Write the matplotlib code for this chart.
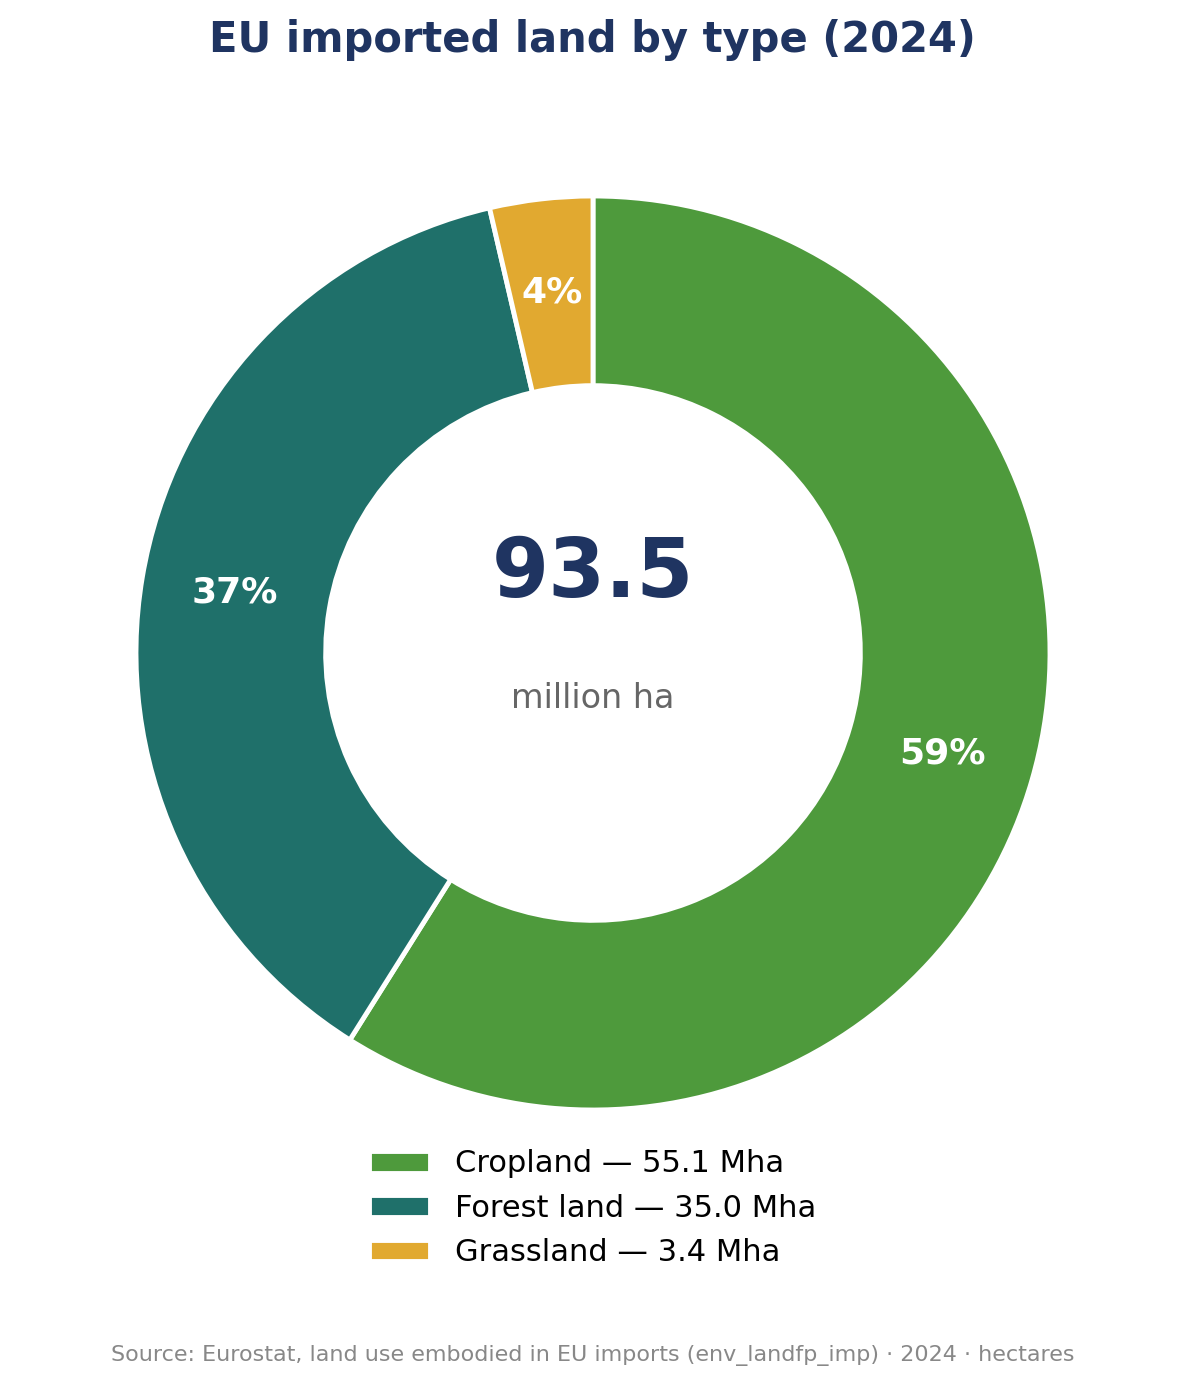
import matplotlib.pyplot as plt

categories = ["Cropland", "Forest land", "Grassland"]
values = [55.1, 35.0, 3.4]
colors = ["#4E9A3C", "#1F706A", "#E1A930"]
total_label = "93.5"
unit_label = "million ha"
source = "Source: Eurostat, land use embodied in EU imports (env_landfp_imp) · 2024 · hectares"

W, H = 1185, 1388
fig = plt.figure(figsize=(W / 100, H / 100), dpi=100)

# donut axes: square region centred at (593, 653) px, radius 457 px
cx, cy, r = 593, 653, 457
ax = fig.add_axes([(cx - r) / W, (H - cy - r) / H, 2 * r / W, 2 * r / H])

wedges, texts, autotexts = ax.pie(
    values,
    colors=colors,
    startangle=90,
    counterclock=False,
    autopct="%.0f%%",
    pctdistance=0.795,
    wedgeprops=dict(width=0.415, edgecolor="white", linewidth=3.5),
    textprops=dict(color="white", fontsize=26, fontweight="bold"),
)
ax.set_xlim(-1, 1)
ax.set_ylim(-1, 1)
ax.set_aspect("equal")
ax.axis("off")

fig.text(0.5, 1 - 40 / H, "EU imported land by type (2024)", ha="center", va="center",
         fontsize=30, fontweight="bold", color="#1F3461")
fig.text(cx / W, 1 - 574 / H, total_label, ha="center", va="center",
         fontsize=59, fontweight="bold", color="#1F3461")
fig.text(cx / W, 1 - 698 / H, unit_label, ha="center", va="center",
         fontsize=24, color="#666666")

labels = [f"{c} — {v:.1f} Mha" for c, v in zip(categories, values)]
fig.legend(wedges, labels, loc="upper center", bbox_to_anchor=(0.5, 1 - 1122 / H),
           frameon=False, fontsize=22, handletextpad=0.8, handlelength=2.0,
           labelspacing=0.5)

fig.text(0.5, 1 - 1356 / H, source, ha="center", va="center", fontsize=16, color="#888888")

fig.savefig("out.png", dpi=100)
